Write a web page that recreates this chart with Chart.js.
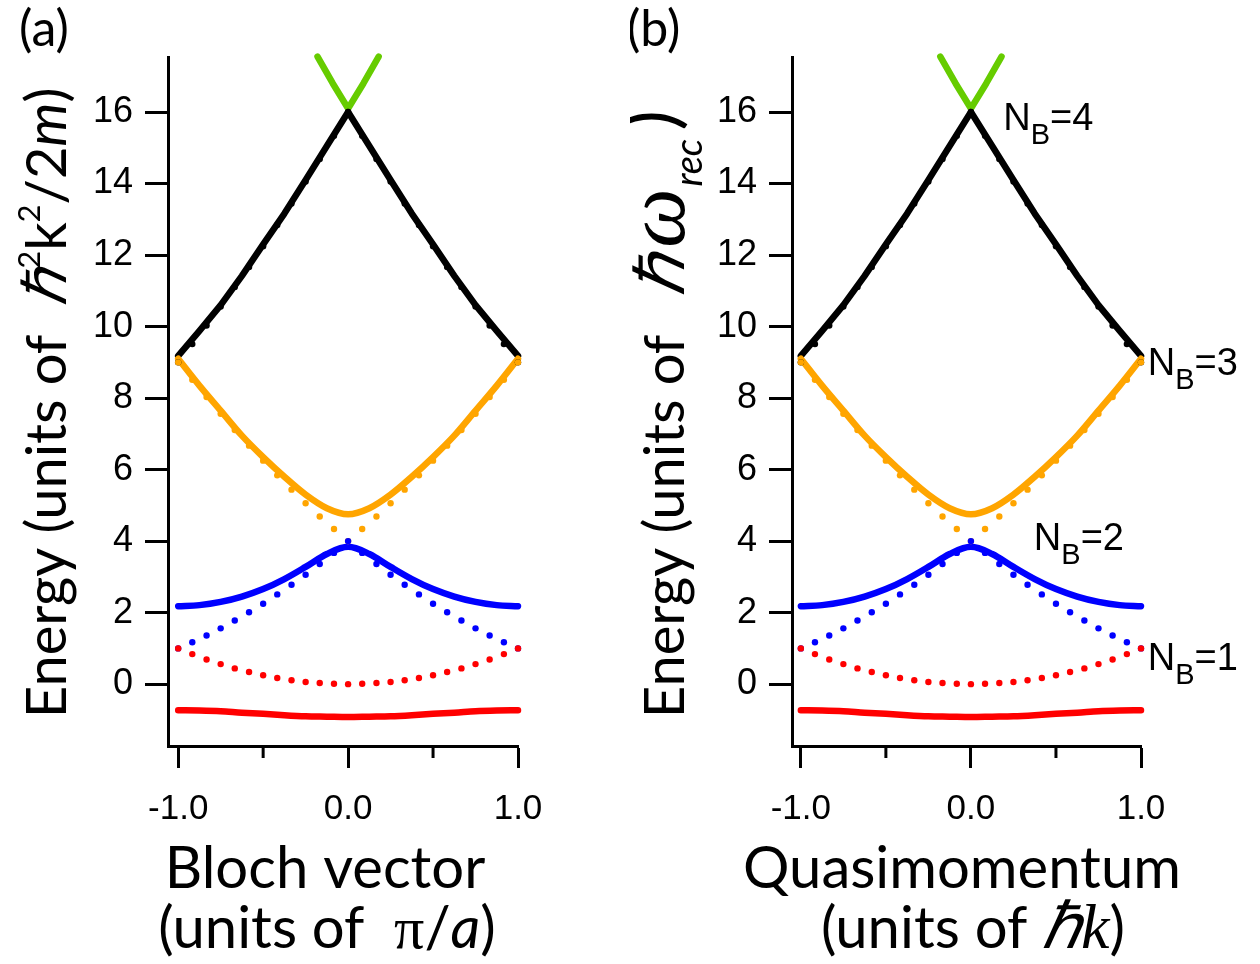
<!DOCTYPE html>
<html>
<head>
<meta charset="utf-8">
<script src="https://cdn.jsdelivr.net/npm/chart.js@4"></script>
<style>
  body { margin: 0; background: #fff; }
  .wrap { position: absolute; top: 0; width: 630px; height: 964px; }
</style>
</head>
<body>
<div class="wrap" style="left:0"><canvas id="panelA"></canvas></div>
<div class="wrap" style="left:630px"><canvas id="panelB"></canvas></div>
<script>
// quasimomentum samples for the solid bands
const bandQ = [-1, -0.875, -0.75, -0.625, -0.5, -0.375, -0.25, -0.125, 0,
  0.125, 0.25, 0.375, 0.5, 0.625, 0.75, 0.875, 1];
const band1 = [-0.73, -0.74, -0.76, -0.8, -0.83, -0.87, -0.9, -0.91, -0.92,
  -0.91, -0.9, -0.87, -0.83, -0.8, -0.76, -0.74, -0.73];
const band2 = [2.18, 2.21, 2.3, 2.45, 2.66, 2.94, 3.28, 3.64, 3.84,
  3.64, 3.28, 2.94, 2.66, 2.45, 2.3, 2.21, 2.18];
const band3 = [9.1, 8.35, 7.65, 6.95, 6.35, 5.8, 5.3, 4.92, 4.75,
  4.92, 5.3, 5.8, 6.35, 6.95, 7.65, 8.35, 9.1];
const band4 = [9.18, 9.88, 10.6, 11.42, 12.3, 13.16, 14.1, 15.05, 16.0,
  15.05, 14.1, 13.16, 12.3, 11.42, 10.6, 9.88, 9.18];
const band5Q = [-0.18, -0.09, 0, 0.09, 0.18];
const band5 = [17.55, 16.8, 16.1, 16.8, 17.55];

// free particle (dotted) samples
const dotQ = [-1, -0.917, -0.833, -0.75, -0.667, -0.583, -0.5, -0.417, -0.333, -0.25, -0.167, -0.083, 0,
  0.083, 0.167, 0.25, 0.333, 0.417, 0.5, 0.583, 0.667, 0.75, 0.833, 0.917, 1];
const free1 = [1.0, 0.84, 0.69, 0.56, 0.44, 0.34, 0.25, 0.17, 0.11, 0.06, 0.03, 0.01, 0,
  0.01, 0.03, 0.06, 0.11, 0.17, 0.25, 0.34, 0.44, 0.56, 0.69, 0.84, 1.0];
const free2 = [1.0, 1.17, 1.36, 1.56, 1.78, 2.01, 2.25, 2.51, 2.78, 3.06, 3.36, 3.67, 4.0,
  3.67, 3.36, 3.06, 2.78, 2.51, 2.25, 2.01, 1.78, 1.56, 1.36, 1.17, 1.0];
const free3 = [9.0, 8.51, 8.03, 7.56, 7.11, 6.67, 6.25, 5.84, 5.44, 5.06, 4.69, 4.34, 4.0,
  4.34, 4.69, 5.06, 5.44, 5.84, 6.25, 6.67, 7.11, 7.56, 8.03, 8.51, 9.0];
const free4 = [9.0, 9.51, 10.03, 10.56, 11.11, 11.67, 12.25, 12.84, 13.44, 14.06, 14.69, 15.34, 16.0,
  15.34, 14.69, 14.06, 13.44, 12.84, 12.25, 11.67, 11.11, 10.56, 10.03, 9.51, 9.0];

const yTicks = [0, 2, 4, 6, 8, 10, 12, 14, 16];
const xTicks = [-1, 0, 1];
const xMinor = [-0.5, 0.5];

// band labels for panel (b): [text, subscript, rest, q, E]
const bandLabels = [
  ['N', 'B', '=4', 0.19, 15.5],
  ['N', 'B', '=3', 1.04, 8.64],
  ['N', 'B', '=2', 0.37, 3.75],
  ['N', 'B', '=1', 1.04, 0.39]
];

const zip = (xs, ys) => xs.map((x, i) => ({ x: x, y: ys[i] }));

function solid(q, e, color, smooth) {
  return {
    data: zip(q, e), borderColor: color, borderWidth: 6.5, pointRadius: 0,
    borderCapStyle: 'round', borderJoinStyle: 'round',
    cubicInterpolationMode: smooth ? 'monotone' : 'default', tension: 0,
    clip: false, order: 2
  };
}
function dots(q, e, color) {
  return {
    data: zip(q, e), showLine: false, pointRadius: 3.2, pointBorderWidth: 0,
    pointBackgroundColor: color, borderColor: color, clip: false, order: 1
  };
}

// draw a run of text pieces (for sub/superscripts)
function drawRich(ctx, parts, x, y, angle, align) {
  ctx.save();
  ctx.translate(x, y);
  ctx.rotate(angle);
  ctx.textBaseline = 'alphabetic';
  ctx.textAlign = 'left';
  let total = 0;
  parts.forEach(p => { ctx.font = p.f; total += ctx.measureText(p.t).width + (p.gap || 0); });
  let cx = align === 'center' ? -total / 2 : 0;
  parts.forEach(p => {
    ctx.font = p.f;
    ctx.fillStyle = '#000';
    ctx.fillText(p.t, cx, p.dy || 0);
    cx += ctx.measureText(p.t).width + (p.gap || 0);
  });
  ctx.restore();
}

const TF = 'Lato, sans-serif';
const big = '56px ' + TF, bigI = 'italic 56px ' + TF, sup = '31px ' + TF;
const xt = '58px ' + TF, xtI = 'italic 58px ' + TF;
const serifI = 'italic 60px "Liberation Serif"';

function makePanel(id, cfg) {
  const extras = {
    id: 'extras',
    afterDraw(chart) {
      const ctx = chart.ctx;
      const xs = chart.scales.x, ys = chart.scales.y;
      const base = chart.chartArea.bottom;
      ctx.save();
      ctx.strokeStyle = '#000';
      ctx.lineWidth = 3;
      xMinor.forEach(v => {
        const px = xs.getPixelForValue(v);
        ctx.beginPath(); ctx.moveTo(px, base); ctx.lineTo(px, base + 12); ctx.stroke();
      });
      ctx.restore();

      ctx.fillStyle = '#000';
      ctx.font = '50px ' + TF;
      ctx.textAlign = 'left';
      ctx.textBaseline = 'alphabetic';
      ctx.fillText(cfg.tag, cfg.tagX, 46);

      drawRich(ctx, cfg.yTitle, cfg.yTitleX, 718, -Math.PI / 2, 'left');
      drawRich(ctx, cfg.xTitle1, cfg.xTitleX1, 888, 0, 'center');
      drawRich(ctx, cfg.xTitle2, cfg.xTitleX2, 948, 0, 'center');

      if (cfg.labels) {
        cfg.labels.forEach(l => {
          const px = xs.getPixelForValue(l[3]), py = ys.getPixelForValue(l[4]);
          drawRich(ctx, [
            { t: l[0], f: '38px "Liberation Sans"' },
            { t: l[1], f: '29px "Liberation Sans"', dy: 14 },
            { t: l[2], f: '38px "Liberation Sans"' }
          ], px, py, 0, 'left');
        });
      }
    }
  };

  return new Chart(document.getElementById(id), {
    type: 'line',
    data: {
      datasets: [
        dots(dotQ, free1, '#ff0000'),
        dots(dotQ, free2, '#0000ff'),
        dots(dotQ, free3, '#ffa500'),
        dots(dotQ, free4, '#000000'),
        solid(bandQ, band1, '#ff0000', true),
        solid(bandQ, band2, '#0000ff', true),
        solid(bandQ, band3, '#ffa500', true),
        solid(bandQ, band4, '#000000', false),
        solid(band5Q, band5, '#66cc00', false)
      ]
    },
    options: {
      responsive: true,
      maintainAspectRatio: false,
      animation: false,
      layout: { padding: { top: 57, right: cfg.padRight, bottom: 0, left: 0 } },
      plugins: { legend: { display: false }, tooltip: { enabled: false } },
      scales: {
        x: {
          type: 'linear', min: cfg.xMin, max: 1,
          afterBuildTicks: s => { s.ticks = xTicks.map(v => ({ value: v })); },
          afterFit: s => { s.height = 218; },
          border: { display: true, color: '#000', width: 3 },
          grid: { drawOnChartArea: false, tickLength: 22, tickWidth: 3, tickColor: '#000', color: '#000' },
          ticks: {
            padding: 20, color: '#000', maxRotation: 0,
            font: { family: 'Liberation Sans', size: 35 },
            callback: v => v.toFixed(1)
          }
        },
        y: {
          min: -1.73, max: 17.54,
          afterBuildTicks: s => { s.ticks = yTicks.map(v => ({ value: v })); },
          afterFit: s => { s.width = cfg.left; },
          border: { display: true, color: '#000', width: 3 },
          grid: { drawOnChartArea: false, tickLength: 23, tickWidth: 3, tickColor: '#000', color: '#000' },
          ticks: {
            padding: 12, color: '#000',
            font: { family: 'Liberation Sans', size: 36 }
          }
        }
      }
    },
    plugins: [extras]
  });
}

makePanel('panelA', {
  left: 168, padRight: 112, xMin: -1.06, tag: '(a)', tagX: 19,
  yTitleX: 66,
  yTitle: [
    { t: 'Energy (units of  ', f: big },
    { t: 'ℏ', f: serifI },
    { t: '2', f: sup, dy: -26 },
    { t: 'k', f: big },
    { t: '2', f: sup, dy: -26 },
    { t: '/2', f: big },
    { t: 'm', f: bigI },
    { t: ')', f: big }
  ],
  xTitleX1: 325, xTitleX2: 327,
  xTitle1: [{ t: 'Bloch vector', f: xt }],
  xTitle2: [
    { t: '(units of  ', f: xt },
    { t: 'π', f: '60px "Liberation Serif"' },
    { t: '/', f: xt },
    { t: 'a', f: xtI },
    { t: ')', f: xt }
  ]
});

makePanel('panelB', {
  left: 162, padRight: 119, xMin: -1.052, tag: '(b)', tagX: -3,
  yTitleX: 54,
  yTitle: [
    { t: 'Energy (units of  ', f: big, gap: 10 },
    { t: 'ℏ', f: 'italic 68px "Liberation Serif"', gap: 6 },
    { t: 'ω', f: 'italic 84px "Liberation Serif"', gap: 2 },
    { t: 'rec', f: 'italic 38px ' + TF, dy: 18, gap: 8 },
    { t: ')', f: '78px ' + TF, dy: -8 }
  ],
  xTitleX1: 332, xTitleX2: 343,
  xTitle1: [{ t: 'Quasimomentum', f: xt }],
  xTitle2: [
    { t: '(units of ', f: xt },
    { t: 'ℏk', f: 'italic 64px "Liberation Serif"' },
    { t: ')', f: xt }
  ],
  labels: bandLabels
});
</script>
</body>
</html>
